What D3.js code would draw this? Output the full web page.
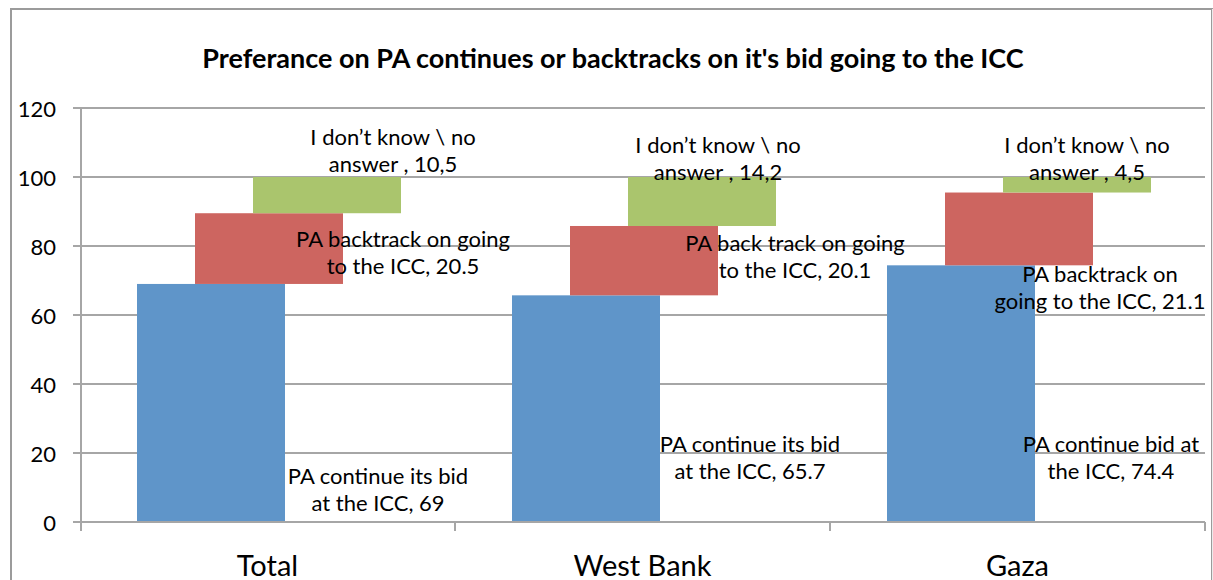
<!DOCTYPE html>
<html>
<head>
<meta charset="utf-8">
<script src="https://cdn.jsdelivr.net/npm/d3@7"></script>
<style>
  html, body { margin: 0; padding: 0; background: #fff; }
  svg { display: block; }
</style>
</head>
<body>
<svg id="chart" width="1213" height="580"></svg>
<script>
// ---------------- data ----------------
const categories = ["Total", "West Bank", "Gaza"];
const seriesNames = ["continue", "backtrack", "dontknow"];
const continueValues = [69, 65.7, 74.4];
const backtrackValues = [20.5, 20.1, 21.1];
const dontKnowValues = [10.5, 14.2, 4.5];
const yTicks = [0, 20, 40, 60, 80, 100, 120];
const titleText = "Preferance on PA continues or backtracks on it's bid going to the ICC";

// label text prefixes (numbers appended from values)
const continueLabels = [["PA continue its bid", "at the ICC, "], ["PA continue its bid", "at the ICC, "], ["PA continue bid at", "the ICC, "]];
const backtrackLabels = [["PA backtrack on going", "to the ICC, "], ["PA back track on going", "to the ICC, "], ["PA backtrack on", "going to the ICC, "]];
const dontKnowLabels = [["I don\u2019t know \\ no", "answer , "], ["I don\u2019t know \\ no", "answer , "], ["I don\u2019t know \\ no", "answer , "]];

// ---------------- layout / style ----------------
const colors = { continue: "#5F95C9", backtrack: "#CD6560", dontknow: "#AAC56D" };
const segOffset = { continue: 57, backtrack: 115, dontknow: 173 };
const segWidth = 148;
// label anchor: [dx from band start (px), y in axis units] per category
const labelLayout = {
  continue: [[298, 9.6], [295, 18.8], [281, 18.8]],
  backtrack: [[323, 78.3], [340, 77.1], [270, 68.1]],
  dontknow: [[313, 107.8], [263, 105.5], [257, 105.5]]
};
const fontFamily = "Lato, 'Open Sans', sans-serif";
const gridColor = "#A6A6A6";

const svg = d3.select("#chart");
const plot = { left: 81, right: 1205, top: 108, bottom: 522 };

const x = d3.scaleBand().domain(categories).range([80, 1205]).padding(0);
const y = d3.scaleLinear().domain([0, 120]).range([plot.bottom, plot.top]);

// outer border
svg.append("rect").attr("x", 11).attr("y", 9).attr("width", 1201).attr("height", 600)
  .attr("fill", "none").attr("stroke", "#9B9B9B").attr("stroke-width", 2);
svg.append("line").attr("x1", 1212.5).attr("x2", 1212.5).attr("y1", 9).attr("y2", 580)
  .attr("stroke", "#EBEBEB").attr("stroke-width", 1);

// title
svg.append("text").attr("x", 613).attr("y", 57).attr("text-anchor", "middle")
  .attr("dominant-baseline", "central")
  .attr("font-family", fontFamily).attr("font-weight", "bold").attr("font-size", 27)
  .attr("fill", "#000").text(titleText);

// gridlines + y ticks
const gy = svg.append("g");
gy.selectAll("line.grid").data(yTicks).join("line")
  .attr("x1", 73).attr("x2", plot.right)
  .attr("y1", d => y(d)).attr("y2", d => y(d))
  .attr("stroke", gridColor).attr("stroke-width", 2);
gy.selectAll("text").data(yTicks).join("text")
  .attr("x", 56).attr("y", d => y(d)).attr("text-anchor", "end")
  .attr("dominant-baseline", "central")
  .attr("font-family", fontFamily).attr("font-size", 22).attr("fill", "#000")
  .text(d => d);

// stacked data
const rows = categories.map((c, i) => ({
  category: c, continue: continueValues[i], backtrack: backtrackValues[i], dontknow: dontKnowValues[i]
}));
const stacked = d3.stack().keys(seriesNames)(rows);

stacked.forEach(layer => {
  svg.append("g").selectAll("rect").data(layer).join("rect")
    .attr("x", d => x(d.data.category) + segOffset[layer.key])
    .attr("width", segWidth)
    .attr("y", d => y(d[1]))
    .attr("height", d => y(d[0]) - y(d[1]))
    .attr("fill", colors[layer.key]);
});

// axes lines
svg.append("line").attr("x1", plot.left).attr("x2", plot.left).attr("y1", plot.top - 1).attr("y2", plot.bottom + 9)
  .attr("stroke", gridColor).attr("stroke-width", 2);
svg.append("line").attr("x1", 73).attr("x2", plot.right).attr("y1", plot.bottom).attr("y2", plot.bottom)
  .attr("stroke", gridColor).attr("stroke-width", 2);
// category boundary ticks
const boundaries = categories.map(c => x(c) + x.bandwidth());
svg.selectAll("line.xt").data(boundaries).join("line")
  .attr("x1", d => d).attr("x2", d => d).attr("y1", plot.bottom).attr("y2", plot.bottom + 9)
  .attr("stroke", gridColor).attr("stroke-width", 2);

// category labels
svg.selectAll("text.cat").data(categories).join("text")
  .attr("class", "cat")
  .attr("x", d => x(d) + x.bandwidth() / 2).attr("y", 564)
  .attr("text-anchor", "middle").attr("dominant-baseline", "central")
  .attr("font-family", fontFamily).attr("font-size", 29).attr("fill", "#000")
  .text(d => d);

// data labels
const labelSets = {
  continue: { lines: continueLabels, values: continueValues, fmt: v => String(v) },
  backtrack: { lines: backtrackLabels, values: backtrackValues, fmt: v => String(v) },
  dontknow: { lines: dontKnowLabels, values: dontKnowValues, fmt: v => String(v).replace(".", ",") }
};
const lineGap = 27;
seriesNames.forEach(key => {
  const set = labelSets[key];
  categories.forEach((c, i) => {
    const [dx, yv] = labelLayout[key][i];
    const cx = x(c) + dx;
    const cy = y(yv);
    const t = svg.append("text").attr("text-anchor", "middle")
      .attr("font-family", fontFamily).attr("font-size", 22).attr("fill", "#000");
    t.append("tspan").attr("x", cx).attr("y", cy - lineGap / 2).attr("dominant-baseline", "central")
      .text(set.lines[i][0]);
    t.append("tspan").attr("x", cx).attr("y", cy + lineGap / 2).attr("dominant-baseline", "central")
      .text(set.lines[i][1] + set.fmt(set.values[i]));
  });
});
</script>
</body>
</html>
